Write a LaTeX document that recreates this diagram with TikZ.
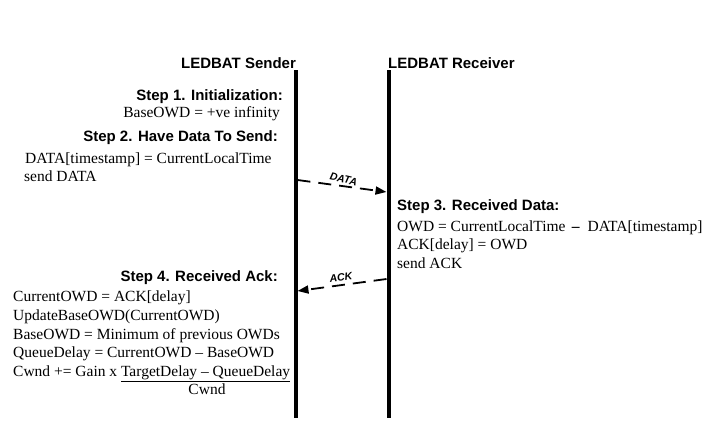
\documentclass[tikz,border=0pt]{standalone}
\usepackage{fontspec}
\setmainfont{Liberation Serif}
\setsansfont{Liberation Sans}
\usetikzlibrary{arrows.meta}
\tikzset{
  life/.style={line width=4pt},
  msg/.style={line width=1.8pt, dash pattern=on 13pt off 8pt, -{Triangle[length=11pt,width=8pt]}},
  msglabel/.style={font=\sffamily\bfseries\itshape\fontsize{10.5}{11}\selectfont, sloped, above, inner sep=2.5pt},
  head/.style={font=\sffamily\bfseries\fontsize{15}{17}\selectfont, inner sep=0pt},
  body/.style={font=\fontsize{15.5}{18}\selectfont, inner sep=0pt},
}
\begin{document}
\begin{tikzpicture}[x=1pt,y=-1pt]
\useasboundingbox (0,0) rectangle (721,426);
% lifelines
\coordinate (s0) at (295.5,70);
\coordinate (s1) at (295.5,418);
\coordinate (r0) at (388.5,70);
\coordinate (r1) at (388.5,418);
\draw[life] (s0) -- (s1);
\draw[life] (r0) -- (r1);
\node[head, anchor=base] (sh) at (238.5,68) {LEDBAT Sender};
\node[head, anchor=base west] (rh) at (388,68) {LEDBAT Receiver};
% step 1 and 2
\node[head, anchor=base east] (st1) at (283,100) {Step 1. Initialization:};
\node[body, anchor=base east] (b1) at (280,117) {BaseOWD = +ve infinity};
\node[head, anchor=base east] (st2) at (278,141) {Step 2. Have Data To Send:};
\node[body, anchor=base west] (b2a) at (25,163) {DATA[timestamp] = CurrentLocalTime};
\node[body, anchor=base west] (b2b) at (24,181) {send DATA};
% messages
\coordinate (d0) at (297.5,180);
\coordinate (d1) at (386.5,192);
\draw[msg] (d0) -- node[msglabel, pos=0.5, rotate=-5] {DATA} (d1);
\coordinate (a0) at (386.5,279);
\coordinate (a1) at (297.5,291);
\draw[msg] (a0) -- node[msglabel, pos=0.5, inner sep=3.5pt] {ACK} (a1);
% step 3
\node[head, anchor=base west] (st3) at (397,210) {Step 3. Received Data:};
\node[body, anchor=base west] (b3a) at (397,231) {OWD = CurrentLocalTime \,\textbf{--}\ \ DATA[timestamp]};
\node[body, anchor=base west] (b3b) at (397,249) {ACK[delay] = OWD};
\node[body, anchor=base west] (b3c) at (397,268) {send ACK};
% step 4
\node[head, anchor=base east] (st4) at (278,281) {Step 4. Received Ack:};
\node[body, anchor=base west] (b4a) at (13,301) {CurrentOWD = ACK[delay]};
\node[body, anchor=base west] (b4b) at (13,320) {UpdateBaseOWD(CurrentOWD)};
\node[body, anchor=base west] (b4c) at (13,339) {BaseOWD = Minimum of previous OWDs};
\node[body, anchor=base west] (b4d) at (13,357) {QueueDelay = CurrentOWD -- BaseOWD};
\node[body, anchor=base west] (b4e) at (13,376) {Cwnd += Gain x \underline{TargetDelay -- QueueDelay}};
\node[body, anchor=base] (b4f) at (207,394) {Cwnd};
\end{tikzpicture}
\end{document}
